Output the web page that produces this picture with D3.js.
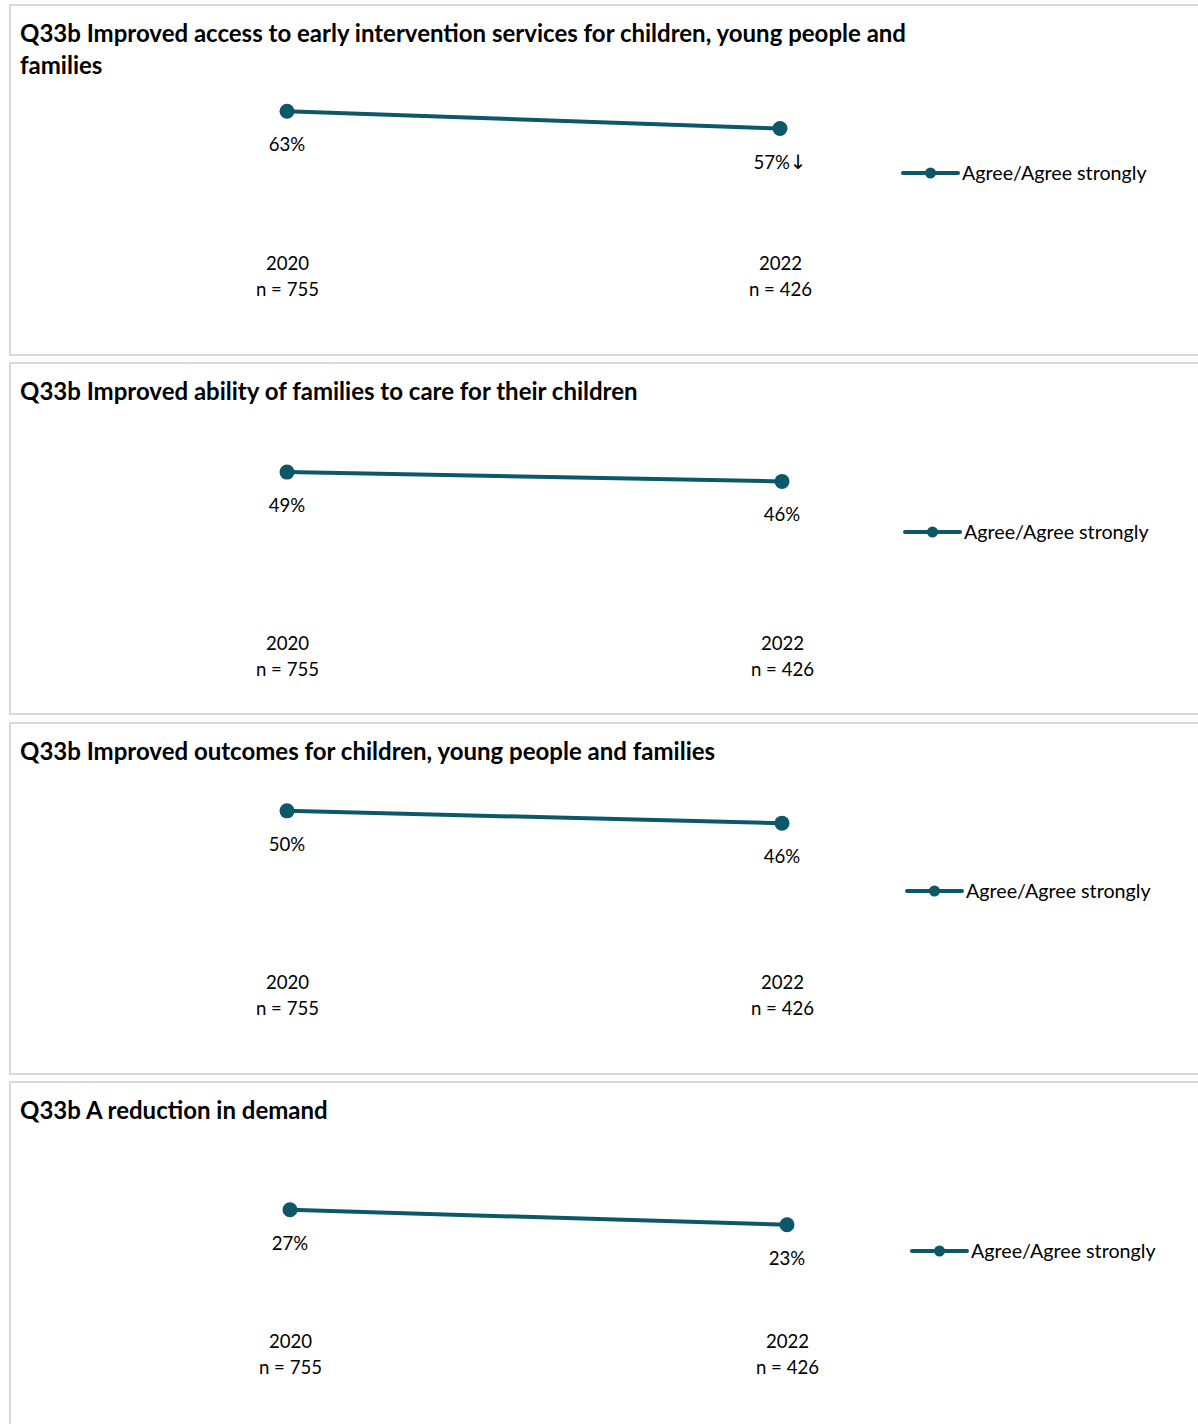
<!DOCTYPE html>
<html>
<head>
<meta charset="utf-8">
<script src="https://cdn.jsdelivr.net/npm/d3@7"></script>
<style>
  body { margin: 0; background: #fff; }
  svg text { font-family: Lato, "Open Sans", "Liberation Sans", sans-serif; fill: #000; }
</style>
</head>
<body>
<svg id="chart" width="1198" height="1424"></svg>
<script>
// ---- data ----
const titles = [
  ["Q33b Improved access to early intervention services for children, young people and", "families"],
  ["Q33b Improved ability of families to care for their children"],
  ["Q33b Improved outcomes for children, young people and families"],
  ["Q33b A reduction in demand"]
];
const years = ["2020", "2022"];
const sampleSizes = ["n = 755", "n = 426"];
const seriesName = "Agree/Agree strongly";
const values1 = [63, 57];
const values2 = [49, 46];
const values3 = [50, 46];
const values4 = [27, 23];
const sigMarks1 = ["", "\u2193"];
const sigMarks2 = ["", ""];
const sigMarks3 = ["", ""];
const sigMarks4 = ["", ""];

// ---- layout (positions only) ----
const panelTops = [5, 363, 723, 1082];
const panelHeights = [350, 351, 351, 400];
const yDomains = [[0, 70], [0, 60], [0, 60], [0, 30]];
const yRanges = [[288, 86], [261, 75], [242, 57], [229, 116.5]];
const xRanges = [[287, 780], [287, 782], [287, 782], [290, 787]];
const catLabelY = [260, 282, 261, 261];
const legendX = [903, 905, 907, 912];
const legendY = [168, 169, 168, 169];

const color = "#0c5868";
const panels = [
  { title: titles[0], values: values1, marks: sigMarks1 },
  { title: titles[1], values: values2, marks: sigMarks2 },
  { title: titles[2], values: values3, marks: sigMarks3 },
  { title: titles[3], values: values4, marks: sigMarks4 }
];

const svg = d3.select("#chart");

panels.forEach((p, i) => {
  const g = svg.append("g").attr("transform", `translate(0,${panelTops[i]})`);

  g.append("rect")
    .attr("x", 10).attr("y", 0)
    .attr("width", 1210).attr("height", panelHeights[i])
    .attr("fill", "#fff")
    .attr("stroke", "#d9d9d9").attr("stroke-width", 2);

  // title
  const t = g.append("text")
    .attr("x", 20).attr("y", 37)
    .style("font-weight", "bold").style("font-size", "24px");
  p.title.forEach((line, k) => {
    t.append("tspan").attr("x", 20).attr("dy", k === 0 ? 0 : 32).text(line);
  });

  const x = d3.scalePoint().domain(years).range(xRanges[i]).padding(0);
  const y = d3.scaleLinear().domain(yDomains[i]).range(yRanges[i]);

  const data = years.map((yr, k) => ({ yr, v: p.values[k], n: sampleSizes[k], m: p.marks[k] }));

  // category axis (hidden line, two-line labels)
  const axis = d3.axisBottom(x).tickSize(0).tickFormat(d => d);
  const ag = g.append("g").attr("transform", `translate(0,${catLabelY[i] - 14})`).call(axis);
  ag.select(".domain").remove();
  ag.selectAll(".tick text").each(function (d) {
    const el = d3.select(this);
    el.text(null)
      .attr("y", 0).attr("dy", 0)
      .style("font-size", "18.6px")
      .style("font-family", "Lato, 'Open Sans', sans-serif")
      .attr("fill", "#000");
    el.append("tspan").attr("x", 0).attr("y", 19).text(d);
    el.append("tspan").attr("x", 0).attr("y", 45).text(sampleSizes[years.indexOf(d)]);
  });

  // line
  g.append("path")
    .datum(data)
    .attr("fill", "none")
    .attr("stroke", color)
    .attr("stroke-width", 4)
    .attr("d", d3.line().x(d => x(d.yr)).y(d => y(d.v)));

  g.selectAll("circle.pt")
    .data(data).enter().append("circle")
    .attr("class", "pt")
    .attr("cx", d => x(d.yr)).attr("cy", d => y(d.v))
    .attr("r", 7.5).attr("fill", color);

  // data labels
  const lbl = g.selectAll("text.lbl")
    .data(data).enter().append("text")
    .attr("class", "lbl")
    .attr("x", d => x(d.yr))
    .attr("y", d => y(d.v) + 40)
    .attr("text-anchor", "middle")
    .style("font-size", "18.6px");
  lbl.append("tspan").text(d => d.v + "%");
  lbl.filter(d => d.m).append("tspan")
    .style("font-family", "'DejaVu Sans', sans-serif")
    .style("font-size", "20px")
    .text(d => d.m);

  // legend
  const lg = g.append("g").attr("transform", `translate(${legendX[i]},${legendY[i]})`);
  lg.append("line").attr("x1", 0).attr("x2", 55).attr("y1", 0).attr("y2", 0)
    .attr("stroke", color).attr("stroke-width", 4).attr("stroke-linecap", "round");
  lg.append("circle").attr("cx", 27.5).attr("cy", 0).attr("r", 5.5).attr("fill", color);
  lg.append("text").attr("x", 59).attr("y", 6.5).style("font-size", "19.7px").text(seriesName);
});
</script>
</body>
</html>
